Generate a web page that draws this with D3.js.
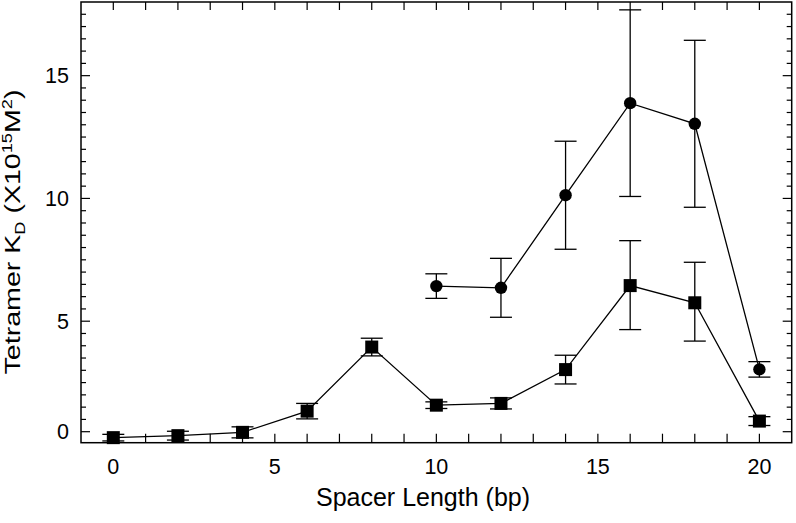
<!DOCTYPE html>
<html>
<head>
<meta charset="utf-8">
<script src="https://cdn.jsdelivr.net/npm/d3@7"></script>
<style>
  html, body { margin: 0; padding: 0; background: #fff; }
  svg { display: block; }
  text { font-family: "Liberation Sans", Arial, Helvetica, sans-serif; fill: #000; }
</style>
</head>
<body>
<svg id="chart" width="796" height="523"></svg>
<script>
// ---- Data ----
const circleX   = [10, 12, 14, 16, 18, 20];
const circleY   = [6.43, 6.36, 10.13, 13.88, 13.04, 2.82];
const circleErr = [0.50, 1.20, 2.20, 3.80, 3.40, 0.35];

const squareX   = [0, 2, 4, 6, 8, 10, 12, 14, 16, 18, 20];
const squareY   = [-0.27, -0.18, -0.03, 0.93, 3.83, 1.20, 1.28, 2.81, 6.45, 5.75, 0.48];
const squareErr = [0.15, 0.20, 0.25, 0.35, 0.40, 0.15, 0.25, 0.65, 1.83, 1.65, 0.20];

const xTickValues = [0, 5, 10, 15, 20];
const yTickValues = [0, 5, 10, 15];

// ---- Layout ----
const pLeft = 81, pRight = 791.7, pTop = 2, pBottom = 442.7;
const svg = d3.select("#chart");

const x = d3.scaleLinear().domain([-1, 21]).range([pLeft, pRight]);
// the original axis is drawn with a slightly compressed 0–5 segment
const y = d3.scaleLinear().domain([-0.5, 0, 5, 18]).range([pBottom, 431.7, 321.2, pTop]);

const g = svg.append("g");

// minor y ticks
const yMinor = d3.range(1, 9).map(i => i * 5 / 9)
  .concat(d3.range(5.5, 18, 0.5).filter(v => v % 5 !== 0));
const yAll = yTickValues.concat(yMinor);

// left axis ticks (inward)
g.append("g").selectAll("line").data(yAll).join("line")
  .attr("x1", pLeft).attr("x2", d => pLeft + (yTickValues.includes(d) ? 9 : 5))
  .attr("y1", d => y(d)).attr("y2", d => y(d))
  .attr("stroke", "#000").attr("stroke-width", 1.2);
// right axis ticks (inward)
g.append("g").selectAll("line").data(yAll).join("line")
  .attr("x1", pRight).attr("x2", d => pRight - (yTickValues.includes(d) ? 9 : 5))
  .attr("y1", d => y(d)).attr("y2", d => y(d))
  .attr("stroke", "#000").attr("stroke-width", 1.2);

// x ticks at every integer, top & bottom (inward)
const xAll = d3.range(0, 21);
g.append("g").selectAll("line").data(xAll).join("line")
  .attr("x1", d => x(d)).attr("x2", d => x(d))
  .attr("y1", pBottom).attr("y2", pBottom - 9)
  .attr("stroke", "#000").attr("stroke-width", 1.2);
g.append("g").selectAll("line").data(xAll).join("line")
  .attr("x1", d => x(d)).attr("x2", d => x(d))
  .attr("y1", pTop).attr("y2", pTop + 8)
  .attr("stroke", "#000").attr("stroke-width", 1.2);

// frame
g.append("rect").attr("x", pLeft).attr("y", pTop)
  .attr("width", pRight - pLeft).attr("height", pBottom - pTop)
  .attr("fill", "none").attr("stroke", "#000").attr("stroke-width", 1.5);

// tick labels
g.append("g").selectAll("text").data(yTickValues).join("text")
  .attr("x", pLeft - 12).attr("y", d => y(d)).attr("dy", "0.36em")
  .attr("text-anchor", "end").attr("font-size", 21.5).text(d => d);
g.append("g").selectAll("text").data(xTickValues).join("text")
  .attr("x", d => x(d)).attr("y", 474)
  .attr("text-anchor", "middle").attr("font-size", 21.5).text(d => d);

// axis titles
svg.append("text").attr("x", 423).attr("y", 506)
  .attr("text-anchor", "middle").attr("font-size", 25).text("Spacer Length (bp)");

const yt = svg.append("text")
  .attr("transform", `translate(20, 232) rotate(-90) scale(1.3, 1)`)
  .attr("text-anchor", "middle").attr("font-size", 22);
yt.append("tspan").text("Tetramer K");
yt.append("tspan").attr("font-size", 14).attr("dy", 5).text("D");
yt.append("tspan").attr("dy", -5).text(" (X10");
yt.append("tspan").attr("font-size", 14).attr("dy", -8).text("15");
yt.append("tspan").attr("dy", 8).text("M");
yt.append("tspan").attr("font-size", 14).attr("dy", -8).text("2");
yt.append("tspan").attr("dy", 8).text(")");

// series
const circles = circleX.map((v, i) => ({ x: v, y: circleY[i], e: circleErr[i] }));
const squares = squareX.map((v, i) => ({ x: v, y: squareY[i], e: squareErr[i] }));

const line = d3.line().x(d => x(d.x)).y(d => y(d.y));
const capW = 11;

function drawSeries(data, shape) {
  const s = svg.append("g");
  s.append("path").datum(data).attr("d", line)
    .attr("fill", "none").attr("stroke", "#000").attr("stroke-width", 1.3);
  const eb = s.append("g").selectAll("g").data(data).join("g")
    .attr("stroke", "#000").attr("stroke-width", 1.3);
  eb.append("line").attr("x1", d => x(d.x)).attr("x2", d => x(d.x))
    .attr("y1", d => y(d.y - d.e)).attr("y2", d => y(d.y + d.e));
  eb.append("line").attr("x1", d => x(d.x) - capW).attr("x2", d => x(d.x) + capW)
    .attr("y1", d => y(d.y + d.e)).attr("y2", d => y(d.y + d.e));
  eb.append("line").attr("x1", d => x(d.x) - capW).attr("x2", d => x(d.x) + capW)
    .attr("y1", d => y(d.y - d.e)).attr("y2", d => y(d.y - d.e));
  if (shape === "circle") {
    s.append("g").selectAll("circle").data(data).join("circle")
      .attr("cx", d => x(d.x)).attr("cy", d => y(d.y)).attr("r", 6.2).attr("fill", "#000");
  } else {
    const sz = 13;
    s.append("g").selectAll("rect").data(data).join("rect")
      .attr("x", d => x(d.x) - sz / 2).attr("y", d => y(d.y) - sz / 2)
      .attr("width", sz).attr("height", sz).attr("fill", "#000");
  }
}
drawSeries(squares, "square");
drawSeries(circles, "circle");
</script>
</body>
</html>
